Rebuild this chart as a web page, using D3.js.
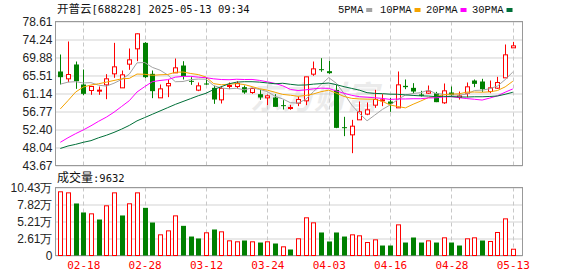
<!DOCTYPE html>
<html>
<head>
<meta charset="utf-8">
<script src="https://cdn.jsdelivr.net/npm/d3@7/dist/d3.min.js"></script>
<style>
  body { margin: 0; background: #fff; }
  svg { display: block; }
</style>
</head>
<body>
<div id="chart"></div>
<script>
// trading days shown, 02-13 .. 05-13
var dates = ['02-13','02-14','02-17','02-18','02-19','02-20','02-21','02-24','02-25','02-26','02-27','02-28',
  '03-03','03-04','03-05','03-06','03-07','03-10','03-11','03-12','03-13','03-14','03-17','03-18','03-19',
  '03-20','03-21','03-24','03-25','03-26','03-27','03-28','03-31',
  '04-01','04-02','04-03','04-07','04-08','04-09','04-10','04-11','04-14','04-15','04-16','04-17','04-18',
  '04-21','04-22','04-23','04-24','04-25','04-28','04-29','04-30',
  '05-06','05-07','05-08','05-09','05-12','05-13'];

var open = [66.48,64.70,68.18,63.32,61.87,61.71,63.24,65.91,62.51,68.26,
  71.98,73.43,65.91,60.09,63.00,66.15,67.93,64.21,61.95,63.57,
  62.51,59.60,62.84,62.84,62.68,61.38,60.98,60.09,60.17,58.31,
  57.58,58.79,59.36,65.83,67.04,66.56,62.00,52.97,51.11,54.75,
  56.13,58.31,59.50,59.20,57.66,63.00,62.51,60.90,61.22,61.22,
  58.88,61.38,60.17,61.22,64.29,64.05,61.62,62.43,64.94,72.22];
var high = [70.60,73.76,68.90,66.96,63.00,62.84,65.83,73.43,66.72,72.06,
  75.70,73.60,66.72,63.32,64.46,69.63,68.98,65.10,63.81,64.94,
  63.00,62.92,63.81,64.13,63.08,62.51,62.11,60.90,60.98,59.52,
  58.39,60.41,65.18,68.90,69.71,69.06,63.20,55.48,54.75,59.20,
  58.96,62.03,60.98,60.09,66.48,64.54,63.65,61.79,63.08,61.54,
  63.57,62.84,61.62,63.81,64.54,64.70,64.29,65.18,73.03,73.67];
var low = [63.32,63.89,62.27,60.74,60.82,60.82,59.76,64.94,62.51,66.88,
  68.98,64.90,60.01,60.09,60.25,66.15,64.54,63.24,61.71,63.24,
  58.63,58.71,62.19,62.27,61.06,61.06,59.60,58.31,57.90,57.26,
  57.18,58.07,58.31,65.43,66.40,65.91,52.73,50.79,46.66,54.75,
  55.88,57.66,58.07,56.69,57.66,62.19,61.14,60.41,61.06,59.04,
  58.63,60.25,59.68,60.25,62.68,61.54,61.22,62.27,64.94,72.22];
var close = [65.10,65.75,64.13,61.06,62.84,61.95,64.70,67.61,65.67,69.31,
  75.62,65.10,61.71,62.27,63.57,67.37,65.34,63.97,63.00,63.32,
  59.68,62.35,63.08,63.57,61.38,62.35,60.17,60.57,57.90,58.15,
  57.74,59.68,65.18,67.12,66.88,66.07,52.80,52.73,53.21,56.69,
  57.18,59.70,59.60,58.63,63.24,62.68,61.62,60.57,61.71,59.04,
  61.79,60.74,60.57,62.76,63.48,62.19,62.51,63.81,70.52,72.70];

var ma5 = [63.4,63.9,64.0,63.7,63.78,63.15,62.94,63.63,64.55,65.85,
  68.58,68.66,67.48,66.80,65.65,64.00,64.05,64.50,64.65,64.60,
  63.06,62.46,62.29,62.40,62.01,62.55,62.11,61.61,60.47,59.83,
  58.91,58.81,59.73,61.57,63.32,64.99,63.61,61.12,58.34,56.30,
  54.52,55.90,57.28,58.36,59.67,60.77,61.15,61.35,61.96,61.12,
  60.95,60.77,60.77,60.98,61.87,61.95,62.30,62.95,64.50,66.35];
var ma10 = [57.4,59.4,61.5,62.7,63.2,63.5,63.9,64.3,64.7,64.81,
  65.86,65.80,65.56,65.68,65.75,66.29,66.36,65.99,65.73,65.13,
  63.53,63.26,63.40,63.53,63.31,62.81,62.29,61.95,61.44,60.92,
  60.73,60.46,60.67,61.03,61.58,61.95,61.21,60.43,59.96,59.81,
  59.76,59.75,59.24,58.35,57.99,57.65,58.53,59.31,60.16,60.40,
  60.86,61.00,61.06,61.47,61.50,61.45,61.54,61.86,62.74,64.11];
var ma20 = [49.3,50.4,51.4,52.3,53.3,54.4,55.4,56.6,58.0,59.4,
  61.5,62.8,64.0,64.3,64.5,65.1,65.3,65.3,65.1,64.97,
  64.70,64.53,64.48,64.60,64.53,64.55,64.32,63.97,63.58,63.02,
  62.13,61.86,62.03,62.27,62.44,62.38,61.75,61.19,60.70,60.37,
  60.24,60.11,59.95,59.71,59.80,59.82,59.87,59.87,60.06,60.10,
  60.31,60.36,60.13,59.91,59.74,59.55,60.03,60.59,61.45,62.25];
var ma30 = [47.8,48.4,48.8,49.3,49.7,50.4,51.0,51.7,52.5,53.4,
  54.5,55.3,56.1,56.9,57.7,58.5,59.2,59.9,60.6,61.2,
  62.1,62.8,63.5,63.9,64.0,64.0,63.9,63.7,63.5,63.62,
  63.37,63.17,63.21,63.41,63.54,63.68,63.28,62.79,62.37,61.95,
  61.34,61.16,61.10,60.97,60.95,60.80,60.67,60.56,60.52,60.38,
  60.45,60.39,60.31,60.28,60.35,60.35,60.42,60.53,60.95,61.44];

// volume (手) and whether the day closed above the previous close
var volume = [97700,96100,79800,66000,63900,55200,76200,96100,61400,79300,
  96100,73100,50600,31700,37800,60800,45500,29100,26100,34800,
  39900,36300,22500,21000,23000,21000,19900,21000,18400,13300,
  9200,25600,57800,50100,35300,21500,35300,29100,31700,30200,
  19900,24000,15300,15300,47000,19900,27600,19900,22500,19900,
  27100,19900,15300,25600,27100,23000,21500,35300,56200,9632];
var volUp = [1,1,0,0,1,0,1,1,0,1,
  1,0,0,1,1,1,0,0,0,1,
  0,1,1,1,0,1,0,1,0,1,
  0,1,1,1,0,0,0,0,1,1,
  1,1,0,0,1,0,0,0,1,0,
  1,0,0,1,1,0,1,1,1,1];

var priceTicks = [43.67,48.04,52.40,56.77,61.14,65.51,69.88,74.24,78.61];
var volTicks = [0,26075,52150,78225,104300];
var volLabels = ['0','2.61万','5.21万','7.82万','10.43万'];
var tickDates = ['02-18','02-28','03-12','03-24','04-03','04-16','04-28','05-13'];

var maNames = ['5PMA','10PMA','20PMA','30PMA'];
var maColors = ['#a3a3a3','#f5a300','#ff00ff','#006f38'];
var maData = [ma5, ma10, ma20, ma30];

var w = 578, h = 276;
var main = { top: 21.5, bottom: 165.5, left: 55.5, right: 522.5 };
var vp = { top: 187.5, bottom: 255.5 };
var RED = '#ff0000', GREEN = '#008000';
var cjk = '"Noto Sans CJK SC", sans-serif';
var mono = '"DejaVu Sans Mono", monospace';
var sans = '"Liberation Sans", Arial, sans-serif';

var svg = d3.select('#chart').append('svg')
  .attr('width', w).attr('height', h);

var x = d3.scaleLinear().domain([0, dates.length - 1]).range([60.3, 512.8]);
var y = d3.scaleLinear().domain([43.67, 78.61]).range([main.bottom, main.top]);
var yv = d3.scaleLinear().domain([0, 104300]).range([vp.bottom, vp.top]);
var px = i => Math.round(x(i)) + 0.5;

// faint watermark
svg.append('text')
  .attr('x', 250).attr('y', 109)
  .attr('font-family', cjk).attr('font-size', 32).attr('font-weight', 'bold')
  .attr('font-style', 'italic').attr('fill', '#ebebeb')
  .text('东方财富');

// horizontal grid
function hgrid(scale, ticks) {
  var g = svg.append('g')
    .attr('transform', `translate(${main.left},0)`)
    .call(d3.axisLeft(scale).tickValues(ticks).tickSize(-(main.right - main.left)).tickFormat(''));
  g.select('.domain').remove();
  g.selectAll('line').attr('stroke', '#d3d3d3');
}
hgrid(y, priceTicks);
hgrid(yv, volTicks);

// vertical dashed grid
var tickIdx = tickDates.map(d => dates.indexOf(d));
[[main.top, main.bottom], [vp.top, vp.bottom]].forEach(r => {
  svg.append('g').selectAll('line')
    .data(tickIdx)
    .join('line')
    .attr('x1', d => px(d)).attr('x2', d => px(d))
    .attr('y1', r[0]).attr('y2', r[1])
    .attr('stroke', '#c8c8c8')
    .attr('stroke-dasharray', '4,3');
});

// frames
svg.append('rect').attr('x', main.left).attr('y', main.top)
  .attr('width', main.right - main.left).attr('height', main.bottom - main.top)
  .attr('fill', 'none').attr('stroke', '#999');
svg.append('rect').attr('x', main.left).attr('y', vp.top)
  .attr('width', main.right - main.left).attr('height', vp.bottom - vp.top)
  .attr('fill', 'none').attr('stroke', '#999');

// candles
var cg = svg.append('g').selectAll('g')
  .data(dates)
  .join('g');
cg.append('line')
  .attr('x1', (d, i) => px(i)).attr('x2', (d, i) => px(i))
  .attr('y1', (d, i) => y(high[i])).attr('y2', (d, i) => y(low[i]))
  .attr('stroke', (d, i) => close[i] >= open[i] ? RED : GREEN);
cg.append('rect')
  .attr('x', (d, i) => close[i] >= open[i] ? px(i) - 2 : px(i) - 2.5)
  .attr('width', (d, i) => close[i] >= open[i] ? 4 : 5)
  .attr('y', (d, i) => y(Math.max(open[i], close[i])))
  .attr('height', (d, i) => Math.max(1, Math.abs(y(open[i]) - y(close[i]))))
  .attr('fill', (d, i) => close[i] >= open[i] ? '#fff' : GREEN)
  .attr('stroke', (d, i) => close[i] >= open[i] ? RED : 'none');

// moving averages
var line = d3.line().x((d, i) => x(i)).y(d => y(d));
svg.append('g').selectAll('path')
  .data(maData)
  .join('path')
  .attr('d', d => line(d))
  .attr('fill', 'none')
  .attr('stroke', (d, k) => maColors[k])
  .attr('stroke-width', 1);

// volume bars
svg.append('g').selectAll('rect')
  .data(volume)
  .join('rect')
  .attr('x', (d, i) => volUp[i] ? px(i) - 2 : px(i) - 2.5)
  .attr('width', (d, i) => volUp[i] ? 4 : 5)
  .attr('y', d => yv(d))
  .attr('height', d => vp.bottom - yv(d))
  .attr('fill', (d, i) => volUp[i] ? '#fff' : GREEN)
  .attr('stroke', (d, i) => volUp[i] ? RED : 'none');

// y axis labels
var ya = svg.append('g')
  .attr('transform', `translate(${main.left},0)`)
  .call(d3.axisLeft(y).tickValues(priceTicks).tickFormat(d3.format('.2f')).tickSize(0).tickPadding(3));
ya.select('.domain').remove();
ya.selectAll('text').attr('font-family', sans).attr('font-size', 12).attr('fill', '#222');

var va = svg.append('g')
  .attr('transform', `translate(${main.left},0)`)
  .call(d3.axisLeft(yv).tickValues(volTicks).tickFormat((d, i) => volLabels[i]).tickSize(0).tickPadding(3));
va.select('.domain').remove();
va.selectAll('text').attr('font-family', sans).attr('font-size', 12).attr('fill', '#222');

// x axis labels
var xa = svg.append('g')
  .attr('transform', `translate(0,${vp.bottom})`)
  .call(d3.axisBottom(x).tickValues(tickIdx).tickFormat(i => dates[i]).tickSize(0).tickPadding(6));
xa.select('.domain').remove();
xa.selectAll('text').attr('font-family', mono).attr('font-size', 11).attr('fill', RED);

// title
var title = svg.append('text').attr('x', 57).attr('y', 13).attr('font-size', 11.5).attr('fill', '#111');
title.append('tspan').attr('font-family', cjk).text('开普云');
title.append('tspan').attr('font-family', mono).attr('font-size', 10.5).text('[688228] 2025-05-13 09:34');

// volume caption
var vt = svg.append('text').attr('x', 57).attr('y', 182).attr('font-size', 12).attr('fill', '#111');
vt.append('tspan').attr('font-family', cjk).text('成交量');
vt.append('tspan').attr('font-family', mono).attr('font-size', 10.5).text(':' + volume[volume.length - 1]);

// legend
var legendX = [338, 380, 426, 472];
maNames.forEach((name, k) => {
  var t = svg.append('text')
    .attr('x', legendX[k]).attr('y', 13)
    .attr('font-family', '"Liberation Mono", monospace').attr('font-size', 10.5)
    .attr('fill', '#111')
    .text(name);
  var tw = t.node().getComputedTextLength();
  svg.append('rect')
    .attr('x', legendX[k] + tw + 3).attr('y', 8)
    .attr('width', 6).attr('height', 4)
    .attr('fill', maColors[k]);
});
</script>
</body>
</html>
